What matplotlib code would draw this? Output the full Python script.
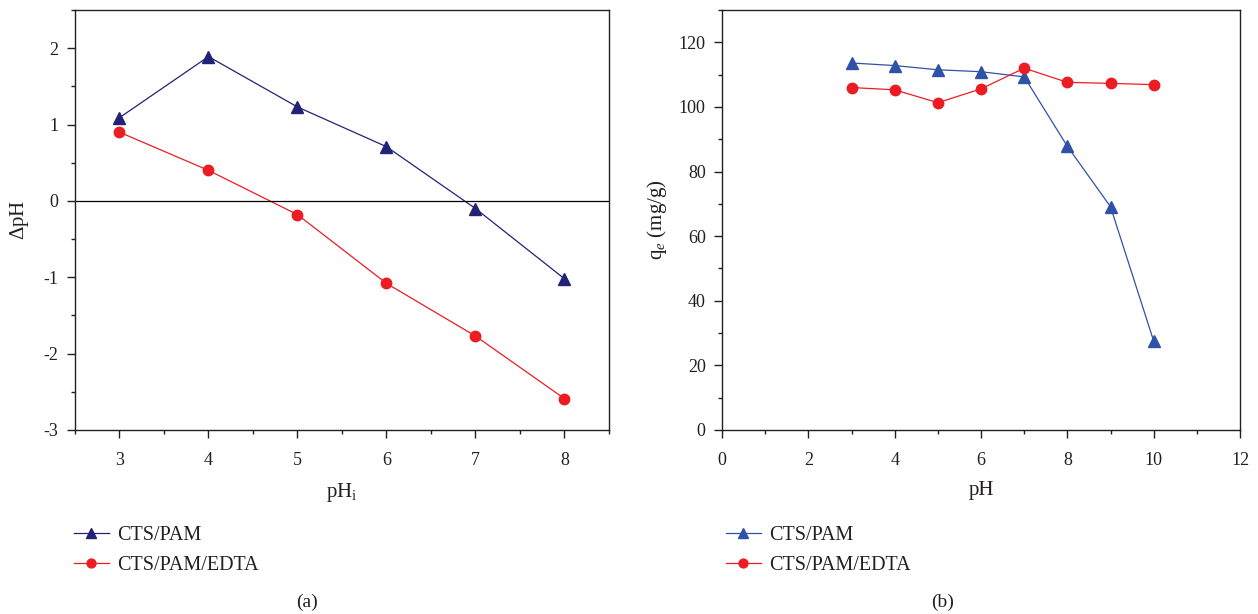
import matplotlib
matplotlib.use("Agg")
import matplotlib.pyplot as plt
from matplotlib.ticker import MultipleLocator

plt.rcParams["font.family"] = ["Liberation Serif", "DejaVu Serif"]
plt.rcParams["mathtext.fontset"] = "custom"
plt.rcParams["mathtext.rm"] = "Liberation Serif"
plt.rcParams["mathtext.it"] = "Liberation Serif:italic"
plt.rcParams["axes.unicode_minus"] = False

txt = "#231f20"

# (a) delta pH vs initial pH
ph_a = [3, 4, 5, 6, 7, 8]
dph_pam = [1.09, 1.89, 1.23, 0.71, -0.10, -1.02]
dph_edta = [0.90, 0.40, -0.18, -1.08, -1.77, -2.59]

# (b) adsorption capacity vs pH
ph_b = [3, 4, 5, 6, 7, 8, 9, 10]
qe_pam = [113.6, 112.8, 111.5, 110.9, 109.3, 87.8, 69.1, 27.5]
qe_edta = [106.0, 105.3, 101.3, 105.6, 112.0, 107.6, 107.3, 106.9]

labels = ["CTS/PAM", "CTS/PAM/EDTA"]
red = "#ec1c24"

fig = plt.figure(figsize=(12.58, 6.14), dpi=100)
ax1 = fig.add_axes([0.0596, 0.2997, 0.4245, 0.684])
ax2 = fig.add_axes([0.574, 0.2997, 0.4117, 0.684])


def style(ax):
    for s in ax.spines.values():
        s.set_color(txt)
        s.set_linewidth(1.0)
    ax.tick_params(which="both", direction="out", colors=txt, labelsize=13,
                   top=False, right=False)
    ax.tick_params(axis="x", which="major", pad=10)
    ax.tick_params(axis="y", which="major", pad=6)
    ax.tick_params(which="major", length=5.8, width=1)
    ax.tick_params(which="minor", length=3, width=1)


# left panel
l1, = ax1.plot(ph_a, dph_pam, color="#222277", marker="^", ms=9, lw=0.9)
l2, = ax1.plot(ph_a, dph_edta, color=red, marker="o", ms=7.5, lw=0.9)
ax1.axhline(0, color="black", lw=0.9)
ax1.set_xlim(2.5, 8.5)
ax1.set_ylim(-3, 2.5)
ax1.xaxis.set_major_locator(MultipleLocator(1))
ax1.xaxis.set_minor_locator(MultipleLocator(0.5))
ax1.yaxis.set_major_locator(MultipleLocator(1))
ax1.yaxis.set_minor_locator(MultipleLocator(0.5))
ax1.set_xlabel(r"pH$_\mathregular{i}$", fontsize=15, color=txt, labelpad=9)
ax1.set_ylabel(r"$\Delta$pH", fontsize=15, color=txt, labelpad=9)
style(ax1)

# right panel
r1, = ax2.plot(ph_b, qe_pam, color="#2f52a8", marker="^", ms=9, lw=0.9)
r2, = ax2.plot(ph_b, qe_edta, color=red, marker="o", ms=7.5, lw=0.9)
ax2.set_xlim(0, 12)
ax2.set_ylim(0, 130)
ax2.xaxis.set_major_locator(MultipleLocator(2))
ax2.xaxis.set_minor_locator(MultipleLocator(1))
ax2.yaxis.set_major_locator(MultipleLocator(20))
ax2.yaxis.set_minor_locator(MultipleLocator(10))
ax2.set_xlabel("pH", fontsize=15, color=txt, labelpad=9)
ax2.set_ylabel(r"q$_e$ (mg/g)", fontsize=15, color=txt, labelpad=7)
style(ax2)

for handles, x in [([l1, l2], 0.0588), ([r1, r2], 0.577)]:
    fig.legend(handles, labels, loc="upper left", bbox_to_anchor=(x, 0.1433),
               frameon=False, fontsize=14.5, handlelength=1.74,
               handletextpad=0.4, labelspacing=0.55, borderpad=0,
               borderaxespad=0, labelcolor=txt, markerscale=0.85)

fig.text(307 / 1258, 1 - 602 / 614, "(a)", ha="center", va="center",
         fontsize=14, color=txt)
fig.text(943 / 1258, 1 - 602 / 614, "(b)", ha="center", va="center",
         fontsize=14, color=txt)

fig.savefig("out.png", dpi=100)
